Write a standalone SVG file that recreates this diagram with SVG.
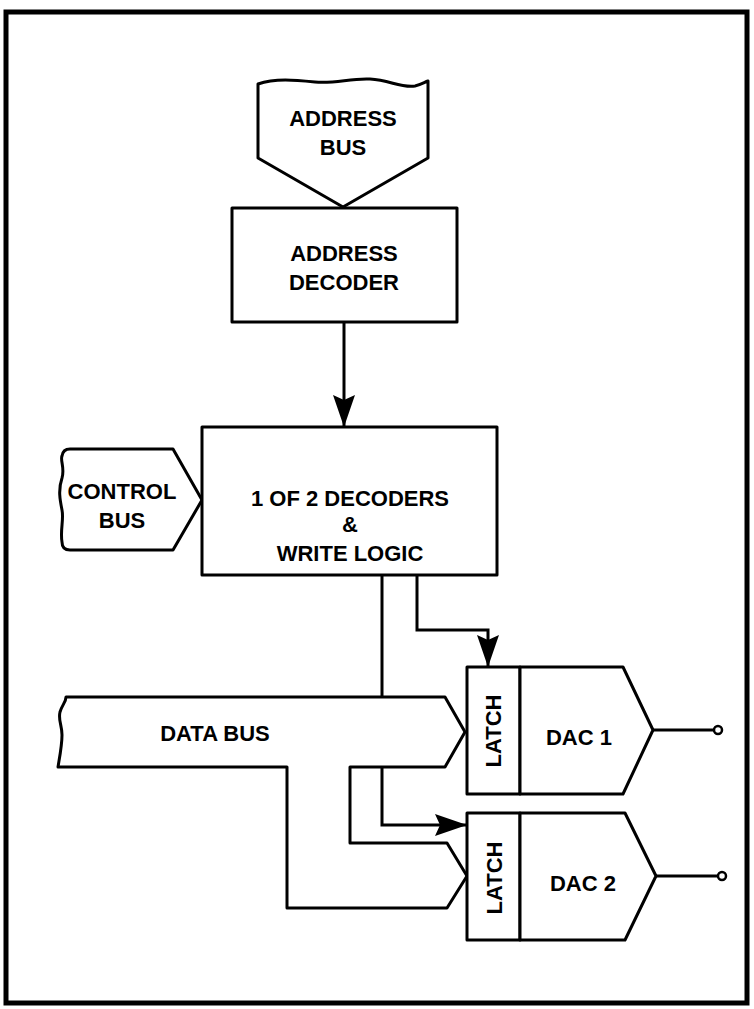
<svg xmlns="http://www.w3.org/2000/svg" width="754" height="1009" viewBox="0 0 754 1009">
<defs>
<style>
.s{fill:#fff;stroke:#000;stroke-width:3;stroke-linejoin:round}
.w{fill:none;stroke:#000;stroke-width:3;stroke-linejoin:miter}
.t{font-family:"Liberation Sans",Arial,sans-serif;font-weight:bold;font-size:22px;fill:#000;text-anchor:middle}
</style>
<marker id="ah" markerUnits="userSpaceOnUse" markerWidth="34" markerHeight="24" refX="32" refY="11" orient="auto">
<path d="M0,0 L32,11 L0,22 L5,11 Z" fill="#000"/>
</marker>
</defs>
<rect x="6" y="12" width="741" height="991" fill="#fff" stroke="#000" stroke-width="5"/>

<g id="address-bus">
<path class="s" d="M258,84 C275,78 295,80 315,82 C335,84 350,78 370,79 C390,80 400,88 415,86 C420,85 425,82 428,81 L428,158 L343,207 L258,158 Z"/>
<text class="t" x="343" y="126">ADDRESS</text>
<text class="t" x="343" y="155">BUS</text>
</g>

<g id="address-decoder">
<rect class="s" x="232" y="208" width="225" height="114"/>
<text class="t" x="344" y="261">ADDRESS</text>
<text class="t" x="344" y="290">DECODER</text>
</g>

<g id="control-bus">
<path class="s" d="M70,449 L173,449 L202,500 L173,550 L70,550 Q62,550 62,542 C60,530 64,520 62,510 C60,500 58,490 62,478 C65,468 60,460 62,456 Q63,449 70,449 Z"/>
<text class="t" x="122" y="499">CONTROL</text>
<text class="t" x="122" y="528">BUS</text>
</g>

<g id="decoders">
<rect class="s" x="202" y="427" width="295" height="148"/>
<text class="t" x="350" y="506">1 OF 2 DECODERS</text>
<text class="t" x="350" y="532">&amp;</text>
<text class="t" x="350" y="561">WRITE LOGIC</text>
</g>

<g id="data-bus">
<path class="s" d="M66,697 L445,697 L465,732 L445,767 L350,767 L350,843 L447,843 L467,876 L447,908 L287,908 L287,767 L58,767 C60,755 62,745 62,735 C62,725 58,720 60,712 C62,705 66,702 66,697 Z"/>
<text class="t" x="215" y="741">DATA BUS</text>
</g>

<g id="latch1">
<rect class="s" x="467" y="667" width="53" height="127"/>
<text class="t" transform="translate(501,731) rotate(-90)">LATCH</text>
</g>
<g id="dac1">
<polygon class="s" points="520,667 623,667 653,730 623,794 520,794"/>
<text class="t" x="579" y="745">DAC 1</text>
</g>

<g id="latch2">
<rect class="s" x="467" y="813" width="53" height="127"/>
<text class="t" transform="translate(502,878) rotate(-90)">LATCH</text>
</g>
<g id="dac2">
<polygon class="s" points="520,813 625,813 656,876 625,940 520,940"/>
<text class="t" x="583" y="891">DAC 2</text>
</g>

<g id="connectors">
<line class="w" x1="344" y1="322" x2="344" y2="427" marker-end="url(#ah)"/>
<line class="w" x1="382" y1="575" x2="382" y2="697"/>
<polyline class="w" points="382,767 382,825 467,825" marker-end="url(#ah)"/>
<polyline class="w" points="417,575 417,630 488,630 488,667" marker-end="url(#ah)"/>
<line class="w" x1="653" y1="730" x2="714" y2="730"/>
<circle cx="718" cy="730" r="4" fill="#fff" stroke="#000" stroke-width="2.5"/>
<line class="w" x1="656" y1="876" x2="718" y2="876"/>
<circle cx="722" cy="876" r="4" fill="#fff" stroke="#000" stroke-width="2.5"/>
</g>
</svg>
